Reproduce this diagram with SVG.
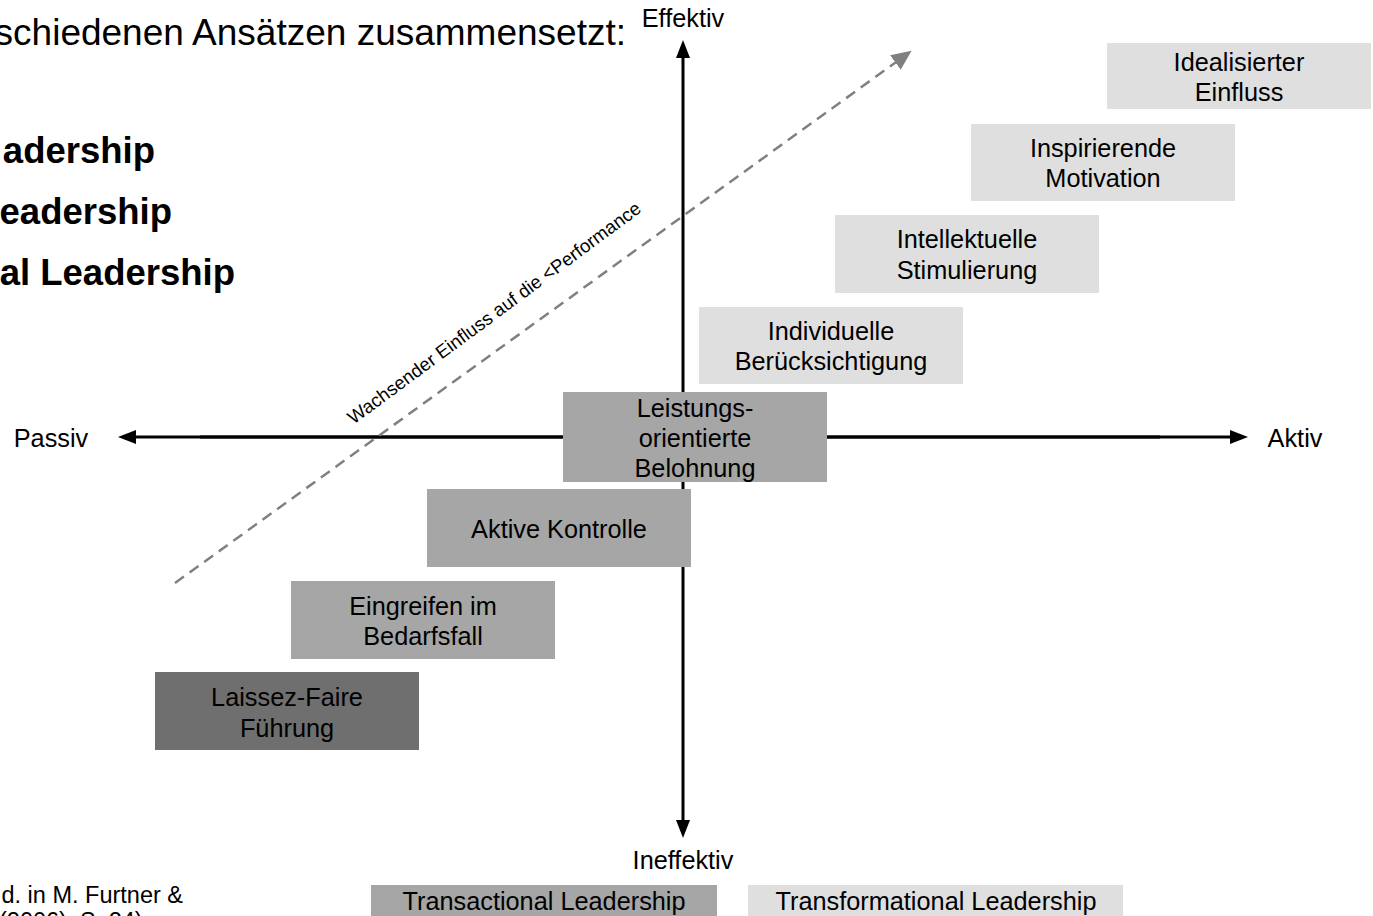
<svg xmlns="http://www.w3.org/2000/svg" width="1373" height="916" viewBox="0 0 1373 916">
<style>
text{font-family:"Liberation Sans",Arial,sans-serif;fill:#000}
.lbl{font-size:25.3px;text-anchor:middle}
.ax{font-size:25.3px;text-anchor:middle}
.head{font-size:37px}
.bold{font-size:36.5px;font-weight:bold;text-anchor:end}
.light{fill:#dfdfdf}
.mid{fill:#a6a6a6}
.dark{fill:#6f6f6f}
.axis{stroke:#000;stroke-width:3;fill:none}
.dash{stroke:#808080;stroke-width:2.5;stroke-dasharray:11 7;fill:none}
</style>
<defs>
<marker id="ah" markerUnits="userSpaceOnUse" markerWidth="18" markerHeight="14" refX="10" refY="7" orient="auto">
<path d="M0,0 L18,7 L0,14 z" fill="#000"/>
</marker>
<marker id="ahg" markerUnits="userSpaceOnUse" markerWidth="20" markerHeight="18" refX="10" refY="9" orient="auto">
<path d="M0,0 L20,9 L0,18 z" fill="#808080"/>
</marker>
</defs>
<rect width="1373" height="916" fill="#fff"/>

<g id="intro">
<text class="head" x="626" y="45" text-anchor="end">schiedenen Ansätzen zusammensetzt:</text>
<text class="bold" x="155" y="163">adership</text>
<text class="bold" x="172" y="224">eadership</text>
<text class="bold" x="235" y="285">al Leadership</text>
<text x="183" y="903" font-size="23.5" text-anchor="end">d. in M. Furtner &amp;</text>
<text x="-1" y="929" font-size="23.5">(2006), S. 24)</text>
</g>

<g id="connectors">
<line class="axis" x1="683" y1="60" x2="683" y2="48" marker-end="url(#ah)"/>
<line class="axis" x1="683" y1="60" x2="683" y2="830" marker-end="url(#ah)"/>
<line class="axis" x1="1160" y1="437" x2="126" y2="437" marker-end="url(#ah)"/>
<line class="axis" x1="200" y1="437" x2="1240" y2="437" marker-end="url(#ah)"/>
<line class="dash" x1="175" y1="583" x2="903.5" y2="56.7" marker-end="url(#ahg)"/>
<text x="0" y="0" font-size="18.7" text-anchor="middle" transform="translate(498,318) rotate(-36.5)">Wachsender Einfluss auf die &lt;Performance</text>
</g>

<g id="axis-labels">
<text class="ax" x="683" y="27">Effektiv</text>
<text class="ax" x="683" y="869">Ineffektiv</text>
<text class="ax" x="51" y="447">Passiv</text>
<text class="ax" x="1295" y="447">Aktiv</text>
</g>

<g id="n-idealisiert">
<rect class="light" x="1107" y="43" width="264" height="66"/>
<text class="lbl" x="1239" y="71">Idealisierter</text>
<text class="lbl" x="1239" y="101">Einfluss</text>
</g>
<g id="n-inspirierend">
<rect class="light" x="971" y="124" width="264" height="77"/>
<text class="lbl" x="1103" y="157">Inspirierende</text>
<text class="lbl" x="1103" y="187">Motivation</text>
</g>
<g id="n-intellektuell">
<rect class="light" x="835" y="215" width="264" height="78"/>
<text class="lbl" x="967" y="248">Intellektuelle</text>
<text class="lbl" x="967" y="279">Stimulierung</text>
</g>
<g id="n-individuell">
<rect class="light" x="699" y="307" width="264" height="77"/>
<text class="lbl" x="831" y="340">Individuelle</text>
<text class="lbl" x="831" y="370">Berücksichtigung</text>
</g>
<g id="n-leistung">
<rect class="mid" x="563" y="392" width="264" height="90"/>
<text class="lbl" x="695" y="417">Leistungs-</text>
<text class="lbl" x="695" y="447">orientierte</text>
<text class="lbl" x="695" y="477">Belohnung</text>
</g>
<g id="n-aktiv">
<rect class="mid" x="427" y="489" width="264" height="78"/>
<text class="lbl" x="559" y="538">Aktive Kontrolle</text>
</g>
<g id="n-eingreifen">
<rect class="mid" x="291" y="581" width="264" height="78"/>
<text class="lbl" x="423" y="615">Eingreifen im</text>
<text class="lbl" x="423" y="645">Bedarfsfall</text>
</g>
<g id="n-laissez">
<rect class="dark" x="155" y="672" width="264" height="78"/>
<text class="lbl" x="287" y="706">Laissez-Faire</text>
<text class="lbl" x="287" y="737">Führung</text>
</g>

<g id="legend-transactional">
<rect class="mid" x="371" y="885" width="346" height="31"/>
<text class="lbl" x="544" y="910">Transactional Leadership</text>
</g>
<g id="legend-transformational">
<rect class="light" x="748" y="885" width="375" height="31"/>
<text class="lbl" x="936" y="910">Transformational Leadership</text>
</g>
</svg>
